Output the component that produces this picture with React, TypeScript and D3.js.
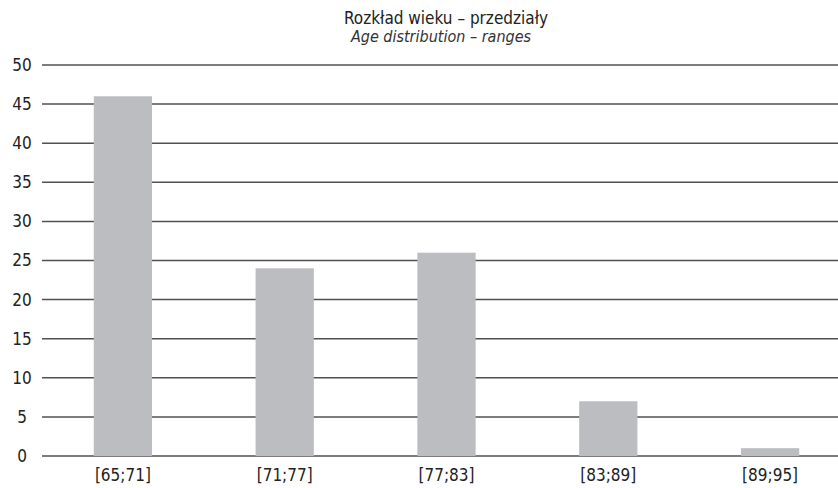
import { useEffect, useRef } from "react"
import * as d3 from "d3"

const categories = ["[65;71]", "[71;77]", "[77;83]", "[83;89]", "[89;95]"]
const counts = [46, 24, 26, 7, 1]
const yTicks = [0, 5, 10, 15, 20, 25, 30, 35, 40, 45, 50]

const font = "'Liberation Sans Narrow', 'DejaVu Sans Condensed', 'Noto Sans', sans-serif"

export default function App() {
    const ref = useRef<SVGSVGElement>(null)

    useEffect(() => {
        const width = 838
        const height = 488

        const svg = d3.select(ref.current)
        svg.selectAll("*").remove()
        svg.attr("width", width).attr("height", height)

        const x = d3.scaleBand<string>()
            .domain(categories)
            .range([42, 851])
            .paddingInner(0.64)
            .paddingOuter(0.32)
        const y = d3.scaleLinear().domain([0, 50]).range([456, 65])

        // gridlines
        svg.append("g")
            .selectAll("line")
            .data(yTicks)
            .join("line")
                .attr("x1", 42)
                .attr("x2", width)
                .attr("y1", d => y(d))
                .attr("y2", d => y(d))
                .attr("stroke", "#505050")
                .attr("stroke-width", 1.5)

        // bars
        svg.append("g")
            .selectAll("rect")
            .data(counts)
            .join("rect")
                .attr("x", (_, i) => x(categories[i])!)
                .attr("width", x.bandwidth())
                .attr("y", d => y(d))
                .attr("height", d => y(0) - y(d))
                .attr("fill", "#bcbdc0")

        // y tick labels
        svg.append("g")
            .selectAll("text")
            .data(yTicks)
            .join("text")
                .attr("x", 22)
                .attr("y", d => y(d))
                .attr("dy", "0.35em")
                .attr("text-anchor", "middle")
                .attr("font-family", font)
                .attr("font-size", 17)
                .attr("fill", "#222")
                .text(d => d)

        // x labels
        svg.append("g")
            .selectAll("text")
            .data(categories)
            .join("text")
                .attr("x", d => x(d)! + x.bandwidth() / 2)
                .attr("y", 481)
                .attr("text-anchor", "middle")
                .attr("font-family", font)
                .attr("font-size", 17)
                .attr("fill", "#222")
                .text(d => d)

        svg.append("text")
            .attr("x", 446)
            .attr("y", 24)
            .attr("text-anchor", "middle")
            .attr("font-family", font)
            .attr("font-size", 17)
            .attr("fill", "#222")
            .text("Rozkład wieku – przedziały")

        svg.append("text")
            .attr("x", 441)
            .attr("y", 42)
            .attr("text-anchor", "middle")
            .attr("font-family", font)
            .attr("font-style", "italic")
            .attr("font-size", 16)
            .attr("fill", "#333")
            .text("Age distribution – ranges")
    }, [])

    return <svg ref={ref} style={{ position: "absolute", left: 0, top: 0, background: "#fff" }} />
}
